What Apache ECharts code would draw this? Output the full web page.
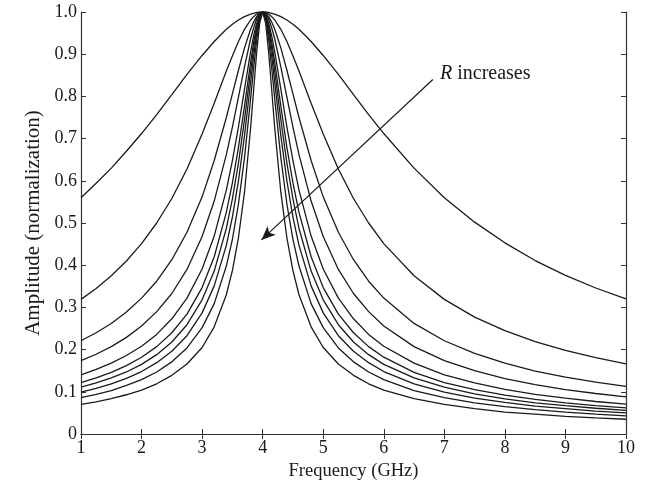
<!DOCTYPE html>
<html>
<head>
<meta charset="utf-8">
<script src="https://cdn.jsdelivr.net/npm/echarts@6/dist/echarts.min.js"></script>
<style>
  html, body { margin: 0; padding: 0; background: #fff; }
  #chart { width: 645px; height: 492px; }
</style>
</head>
<body>
<div id="chart"></div>
<script>
// frequency grid (GHz), shared by all curves
const freq = [1, 1.25, 1.5, 1.75, 2, 2.25, 2.5, 2.75, 3, 3.2, 3.4, 3.5, 3.6, 3.7, 3.8, 3.85, 3.9, 3.95, 4,
  4.05, 4.1, 4.15, 4.2, 4.3, 4.4, 4.5, 4.6, 4.8, 5, 5.25, 5.5, 5.75, 6, 6.5, 7, 7.5, 8, 8.5, 9, 9.5, 10]

// normalized amplitude, one array per R value (smallest R first)
const amp1 = [0.560, 0.594, 0.630, 0.670, 0.712, 0.757, 0.804, 0.852, 0.897, 0.930, 0.959, 0.971, 0.981, 0.989, 0.995, 0.997, 0.999, 1.000, 1,
  1.000, 0.999, 0.997, 0.995, 0.989, 0.981, 0.971, 0.959, 0.930, 0.897, 0.852, 0.804, 0.757, 0.712, 0.630, 0.560, 0.502, 0.453, 0.411, 0.376, 0.346, 0.320]
const amp2 = [0.319, 0.345, 0.375, 0.410, 0.451, 0.500, 0.558, 0.628, 0.711, 0.784, 0.860, 0.896, 0.930, 0.959, 0.981, 0.989, 0.995, 0.999, 1,
  0.999, 0.995, 0.989, 0.981, 0.959, 0.930, 0.896, 0.860, 0.784, 0.711, 0.628, 0.558, 0.500, 0.451, 0.375, 0.319, 0.277, 0.245, 0.219, 0.198, 0.181, 0.166]
const amp3 = [0.221, 0.240, 0.262, 0.289, 0.322, 0.362, 0.413, 0.478, 0.562, 0.648, 0.750, 0.806, 0.862, 0.915, 0.959, 0.976, 0.989, 0.997, 1,
  0.997, 0.989, 0.976, 0.959, 0.915, 0.862, 0.806, 0.750, 0.648, 0.562, 0.478, 0.413, 0.362, 0.322, 0.262, 0.221, 0.191, 0.168, 0.149, 0.135, 0.123, 0.113]
const amp4 = [0.174, 0.189, 0.207, 0.229, 0.256, 0.290, 0.333, 0.390, 0.468, 0.552, 0.662, 0.727, 0.798, 0.870, 0.936, 0.962, 0.983, 0.996, 1,
  0.996, 0.983, 0.962, 0.936, 0.870, 0.798, 0.727, 0.662, 0.552, 0.468, 0.390, 0.333, 0.290, 0.256, 0.207, 0.174, 0.150, 0.131, 0.117, 0.105, 0.096, 0.088]
const amp5 = [0.140, 0.153, 0.168, 0.186, 0.208, 0.236, 0.273, 0.322, 0.391, 0.469, 0.578, 0.648, 0.728, 0.817, 0.905, 0.943, 0.973, 0.993, 1,
  0.993, 0.973, 0.943, 0.905, 0.817, 0.728, 0.648, 0.578, 0.469, 0.391, 0.322, 0.273, 0.236, 0.208, 0.168, 0.140, 0.121, 0.106, 0.094, 0.085, 0.077, 0.071]
const amp6 = [0.122, 0.133, 0.146, 0.162, 0.182, 0.207, 0.240, 0.284, 0.347, 0.420, 0.525, 0.595, 0.679, 0.777, 0.880, 0.927, 0.966, 0.991, 1,
  0.991, 0.966, 0.927, 0.880, 0.777, 0.679, 0.595, 0.525, 0.420, 0.347, 0.284, 0.240, 0.207, 0.182, 0.146, 0.122, 0.105, 0.092, 0.082, 0.074, 0.067, 0.062]
const amp7 = [0.111, 0.121, 0.133, 0.147, 0.165, 0.188, 0.218, 0.259, 0.318, 0.386, 0.487, 0.557, 0.642, 0.745, 0.859, 0.913, 0.958, 0.989, 1,
  0.989, 0.958, 0.913, 0.859, 0.745, 0.642, 0.557, 0.487, 0.386, 0.318, 0.259, 0.218, 0.188, 0.165, 0.133, 0.111, 0.095, 0.083, 0.074, 0.067, 0.061, 0.056]
const amp8 = [0.099, 0.108, 0.119, 0.132, 0.148, 0.169, 0.196, 0.233, 0.287, 0.351, 0.447, 0.514, 0.600, 0.707, 0.832, 0.894, 0.949, 0.986, 1,
  0.986, 0.949, 0.894, 0.832, 0.707, 0.600, 0.514, 0.447, 0.351, 0.287, 0.233, 0.196, 0.169, 0.148, 0.119, 0.099, 0.085, 0.075, 0.066, 0.060, 0.054, 0.050]
const amp9 = [0.086, 0.094, 0.103, 0.115, 0.129, 0.147, 0.171, 0.204, 0.252, 0.309, 0.398, 0.461, 0.545, 0.655, 0.793, 0.866, 0.933, 0.982, 1,
  0.982, 0.933, 0.866, 0.793, 0.655, 0.545, 0.461, 0.398, 0.309, 0.252, 0.204, 0.171, 0.147, 0.129, 0.103, 0.086, 0.074, 0.065, 0.058, 0.052, 0.047, 0.043]
const amp10 = [0.070, 0.076, 0.084, 0.093, 0.104, 0.119, 0.139, 0.166, 0.205, 0.254, 0.330, 0.387, 0.465, 0.573, 0.724, 0.814, 0.903, 0.973, 1,
  0.973, 0.903, 0.814, 0.724, 0.573, 0.465, 0.387, 0.330, 0.254, 0.205, 0.166, 0.139, 0.119, 0.104, 0.084, 0.070, 0.060, 0.052, 0.047, 0.042, 0.038, 0.035]

const curves = [amp1, amp2, amp3, amp4, amp5, amp6, amp7, amp8, amp9, amp10]

// "R increases" arrow, tail and head in data coords
const arrowFrom = [6.81, 0.84]
const arrowTo = [3.98, 0.46]

const font = 'Liberation Serif'
const ink = '#1a1a1a'

const chart = echarts.init(document.getElementById('chart'))

const series = curves.map((amp) => ({
  type: 'line',
  data: freq.map((f, k) => [f, amp[k]]),
  showSymbol: false,
  lineStyle: { color: ink, width: 1.3 },
  silent: true,
  z: 2
}))

// arrow drawn as a markLine on the first series
series[0].markLine = {
  silent: true,
  symbol: ['none', 'arrow'],
  symbolSize: [9, 14],
  label: { show: false },
  lineStyle: { color: ink, width: 1.2, type: 'solid' },
  data: [[{ coord: arrowFrom }, { coord: arrowTo }]]
}

const axisCommon = {
  type: 'value',
  axisLine: { show: true, lineStyle: { color: '#333', width: 1.2 } },
  axisTick: { show: true, inside: true, length: 5, lineStyle: { color: '#333' } },
  splitLine: { show: false }
}

chart.setOption({
  animation: false,
  grid: { left: 81, right: 19, top: 12, bottom: 58 },
  xAxis: [{
    ...axisCommon,
    position: 'bottom',
    min: 1,
    max: 10,
    interval: 1,
    name: 'Frequency (GHz)',
    nameLocation: 'middle',
    nameGap: 26,
    nameTextStyle: { fontFamily: font, fontSize: 18.5, color: ink },
    axisLabel: { fontFamily: font, fontSize: 18, color: ink, margin: 5 }
  }, {
    ...axisCommon,
    position: 'top',
    min: 1,
    max: 10,
    interval: 1,
    axisLabel: { show: false }
  }],
  yAxis: [{
    ...axisCommon,
    position: 'left',
    min: 0,
    max: 1,
    interval: 0.1,
    name: 'Amplitude (normalization)',
    nameLocation: 'middle',
    nameGap: 35,
    nameTextStyle: { fontFamily: font, fontSize: 21, color: ink },
    axisLabel: {
      fontFamily: font, fontSize: 18, color: ink, margin: 4,
      formatter: v => (v === 0 ? '0' : v.toFixed(1))
    }
  }, {
    ...axisCommon,
    position: 'right',
    min: 0,
    max: 1,
    interval: 0.1,
    axisLabel: { show: false }
  }],
  series: series,
  graphic: [{
    type: 'text',
    left: 440,
    top: 64,
    style: {
      text: '{r|R} increases',
      font: '20px ' + font,
      fill: ink,
      rich: { r: { fontStyle: 'italic', fontFamily: font, fontSize: 20, fill: ink } }
    }
  }]
})
</script>
</body>
</html>
